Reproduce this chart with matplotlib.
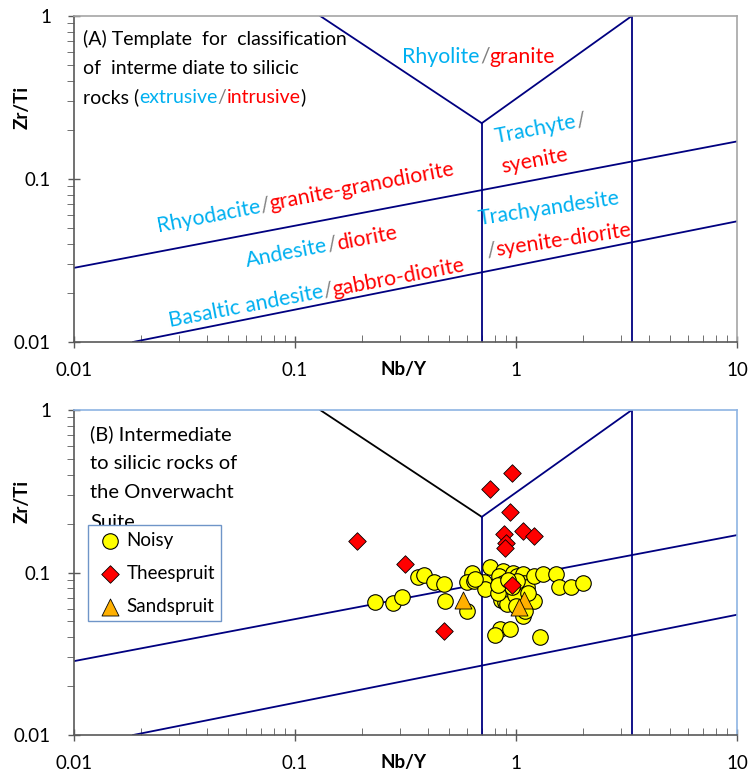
import numpy as np
import matplotlib
matplotlib.use("Agg")
import matplotlib.pyplot as plt
import matplotlib.transforms as mtransforms
from matplotlib.ticker import FixedLocator, FixedFormatter, LogLocator, NullFormatter

plt.rcParams["font.family"] = ["Lato", "DejaVu Sans"]

# field boundaries (Nb/Y, Zr/Ti)
left_arm_x = [0.13, 0.70]
left_arm_y = [1.0, 0.22]
right_arm_x = [0.70, 3.34]
right_arm_y = [0.22, 1.0]
mid_vert_x = [0.70, 0.70]
mid_vert_y = [0.01, 0.22]
right_vert_x = [3.34, 3.34]
right_vert_y = [0.01, 1.0]
upper_line_x = [0.01, 10]
upper_line_y = [0.0285, 0.170]
lower_line_x = [0.0185, 10]
lower_line_y = [0.01, 0.055]

# samples
noisy_nby = [0.230, 0.277, 0.306, 0.360, 0.385, 0.426, 0.474, 0.478, 0.597, 0.629,
             0.597, 0.645, 0.717, 0.724, 0.766, 0.871, 0.840, 0.875, 0.906, 0.855,
             0.890, 0.940, 0.966, 1.007, 1.080, 1.090, 1.120, 1.205, 1.320, 1.510,
             1.560, 1.770, 2.000, 1.210, 1.070, 1.100, 0.847, 0.800, 0.940, 1.290,
             0.906, 0.832, 0.990, 1.015, 0.960, 0.832, 1.130, 0.650, 1.000, 0.920]
noisy_zrti = [0.066, 0.065, 0.071, 0.0945, 0.096, 0.088, 0.085, 0.067, 0.058, 0.0995,
              0.087, 0.0885, 0.087, 0.079, 0.108, 0.102, 0.095, 0.086, 0.079, 0.068,
              0.066, 0.070, 0.0995, 0.095, 0.0985, 0.0865, 0.082, 0.095, 0.0985, 0.0985,
              0.082, 0.082, 0.086, 0.067, 0.054, 0.058, 0.0447, 0.041, 0.0447, 0.040,
              0.064, 0.075, 0.073, 0.0886, 0.082, 0.084, 0.075, 0.091, 0.062, 0.090]
thee_nby = [0.957, 0.762, 0.942, 0.190, 0.883, 1.07, 1.20, 0.90, 0.889, 0.313, 0.96, 0.471]
thee_zrti = [0.409, 0.326, 0.236, 0.156, 0.173, 0.180, 0.169, 0.152, 0.142, 0.1135, 0.0836, 0.0439]
sand_nby = [0.574, 1.09, 1.03]
sand_zrti = [0.068, 0.068, 0.061]

CYAN = "#00b0f0"
RED = "#ff0000"
SLASH = "#808080"
NAVY = "#000080"


def colored_text(ax, x, y, parts, angle=0, size=14, transform=None):
    renderer = ax.figure.canvas.get_renderer()
    base = transform if transform is not None else ax.transData
    rad = np.deg2rad(angle)
    offset = 0.0
    for s, c in parts:
        shift = mtransforms.Affine2D().translate(offset * np.cos(rad), offset * np.sin(rad))
        t = ax.text(x, y, s, color=c, fontsize=size, rotation=angle,
                    rotation_mode="anchor", ha="left", va="baseline",
                    transform=base + shift)
        w, h, d = renderer.get_text_width_height_descent(s, t.get_fontproperties(), ismath=False)
        offset += w


def setup_axes(ax, frame_color):
    ax.set_xscale("log")
    ax.set_yscale("log")
    ax.set_xlim(0.01, 10)
    ax.set_ylim(0.01, 1)
    ax.xaxis.set_major_locator(FixedLocator([0.01, 0.1, 1, 10]))
    ax.xaxis.set_major_formatter(FixedFormatter(["0.01", "0.1", "1", "10"]))
    ax.yaxis.set_major_locator(FixedLocator([0.01, 0.1, 1]))
    ax.yaxis.set_major_formatter(FixedFormatter(["0.01", "0.1", "1"]))
    ax.xaxis.set_minor_locator(LogLocator(base=10, subs=np.arange(2, 10)))
    ax.yaxis.set_minor_locator(LogLocator(base=10, subs=np.arange(2, 10)))
    ax.xaxis.set_minor_formatter(NullFormatter())
    ax.yaxis.set_minor_formatter(NullFormatter())
    ax.tick_params(which="major", direction="inout", length=9, width=1,
                   color="#595959", labelsize=13.5, pad=12)
    ax.tick_params(axis="x", which="major", pad=10)
    ax.tick_params(axis="x", which="minor", direction="in", length=5, color="#595959")
    ax.tick_params(axis="y", which="minor", direction="out", length=5, color="#595959")
    ax.tick_params(top=False, right=False, which="both")
    for side in ["left", "bottom"]:
        ax.spines[side].set_color("#595959")
        ax.spines[side].set_linewidth(1.2)
    for side in ["top", "right"]:
        ax.spines[side].set_color(frame_color)
        ax.spines[side].set_linewidth(1.2)
    ax.text(0.497, -0.085, "Nb/Y", transform=ax.transAxes, ha="center", va="center",
            fontsize=13.5, fontweight="bold")
    ax.text(-0.078, 0.72, "Zr/Ti", transform=ax.transAxes, ha="center", va="center",
            rotation=90, fontsize=13.5, fontweight="bold")


def draw_fields(ax, left_color):
    lw = 1.3
    ax.plot(left_arm_x, left_arm_y, color=left_color, lw=lw)
    ax.plot(right_arm_x, right_arm_y, color=NAVY, lw=lw)
    ax.plot(mid_vert_x, mid_vert_y, color=NAVY, lw=lw)
    ax.plot(right_vert_x, right_vert_y, color=NAVY, lw=lw)
    ax.plot(upper_line_x, upper_line_y, color=NAVY, lw=lw)
    ax.plot(lower_line_x, lower_line_y, color=NAVY, lw=lw)


fig = plt.figure(figsize=(7.5, 7.76), dpi=100)
ax1 = fig.add_axes([0.0987, 0.5593, 0.884, 0.4201])
ax2 = fig.add_axes([0.0987, 0.0528, 0.884, 0.4188])

# ---- panel A ----
setup_axes(ax1, "#a6a6a6")
draw_fields(ax1, NAVY)

tsize = 14
ax1.text(0.0136, 0.911, "(A) Template  for  classification", transform=ax1.transAxes,
         fontsize=tsize, va="baseline")
ax1.text(0.0136, 0.822, "of  interme diate to silicic", transform=ax1.transAxes,
         fontsize=tsize, va="baseline")
colored_text(ax1, 0.0136, 0.733,
             [("rocks (", "black"), ("extrusive", CYAN), ("/", SLASH),
              ("intrusive", RED), (")", "black")],
             size=tsize, transform=ax1.transAxes)

lsize = 15.3
rot = 10.8
colored_text(ax1, 0.306, 0.515, [("Rhyolite", CYAN), ("/", SLASH), ("granite", RED)],
             size=lsize)
colored_text(ax1, 0.81, 0.166, [("Trachyte", CYAN), ("/", SLASH)], angle=rot, size=lsize)
colored_text(ax1, 0.87, 0.109, [("syenite", RED)], angle=rot, size=lsize)
colored_text(ax1, 0.024, 0.0473,
             [("Rhyodacite", CYAN), ("/", SLASH), ("granite-granodiorite", RED)],
             angle=rot, size=lsize)
colored_text(ax1, 0.0608, 0.0288, [("Andesite", CYAN), ("/", SLASH), ("diorite", RED)],
             angle=rot, size=lsize)
colored_text(ax1, 0.0272, 0.01236,
             [("Basaltic andesite", CYAN), ("/", SLASH), ("gabbro-diorite", RED)],
             angle=rot, size=lsize)
colored_text(ax1, 0.678, 0.0522, [("Trachyandesite", CYAN)], angle=8.5, size=lsize)
colored_text(ax1, 0.743, 0.0328, [("/", SLASH), ("syenite-diorite", RED)], angle=8.5,
             size=lsize)

# ---- panel B ----
setup_axes(ax2, "#8eb4e3")
draw_fields(ax2, "black")

ax2.scatter(noisy_nby, noisy_zrti, s=125, marker="o", facecolor="#ffff00",
            edgecolor="black", linewidth=0.8, zorder=3, label="Noisy")
ax2.scatter(thee_nby, thee_zrti, s=80, marker="D", facecolor="#ff0000",
            edgecolor="black", linewidth=0.6, zorder=4, label="Theespruit")
ax2.scatter(sand_nby, sand_zrti, s=150, marker="^", facecolor="#ffb000",
            edgecolor="black", linewidth=0.6, zorder=5, label="Sandspruit")

for i, line in enumerate(["(B) Intermediate", "to silicic rocks of",
                          "the Onverwacht", "Suite"]):
    ax2.text(0.024, 0.908 - i * 0.090, line, transform=ax2.transAxes,
             fontsize=14.5, va="baseline")

leg = ax2.legend(loc="upper left", bbox_to_anchor=(0.021, 0.646), borderaxespad=0,
                 fontsize=13.5, fancybox=False, framealpha=1, edgecolor="#6f95c8",
                 handletextpad=0.1, handlelength=1.6, labelspacing=0.85, borderpad=0.35)
leg.get_frame().set_linewidth(1.0)
leg.set_zorder(6)

fig.savefig("out.png", dpi=100)
